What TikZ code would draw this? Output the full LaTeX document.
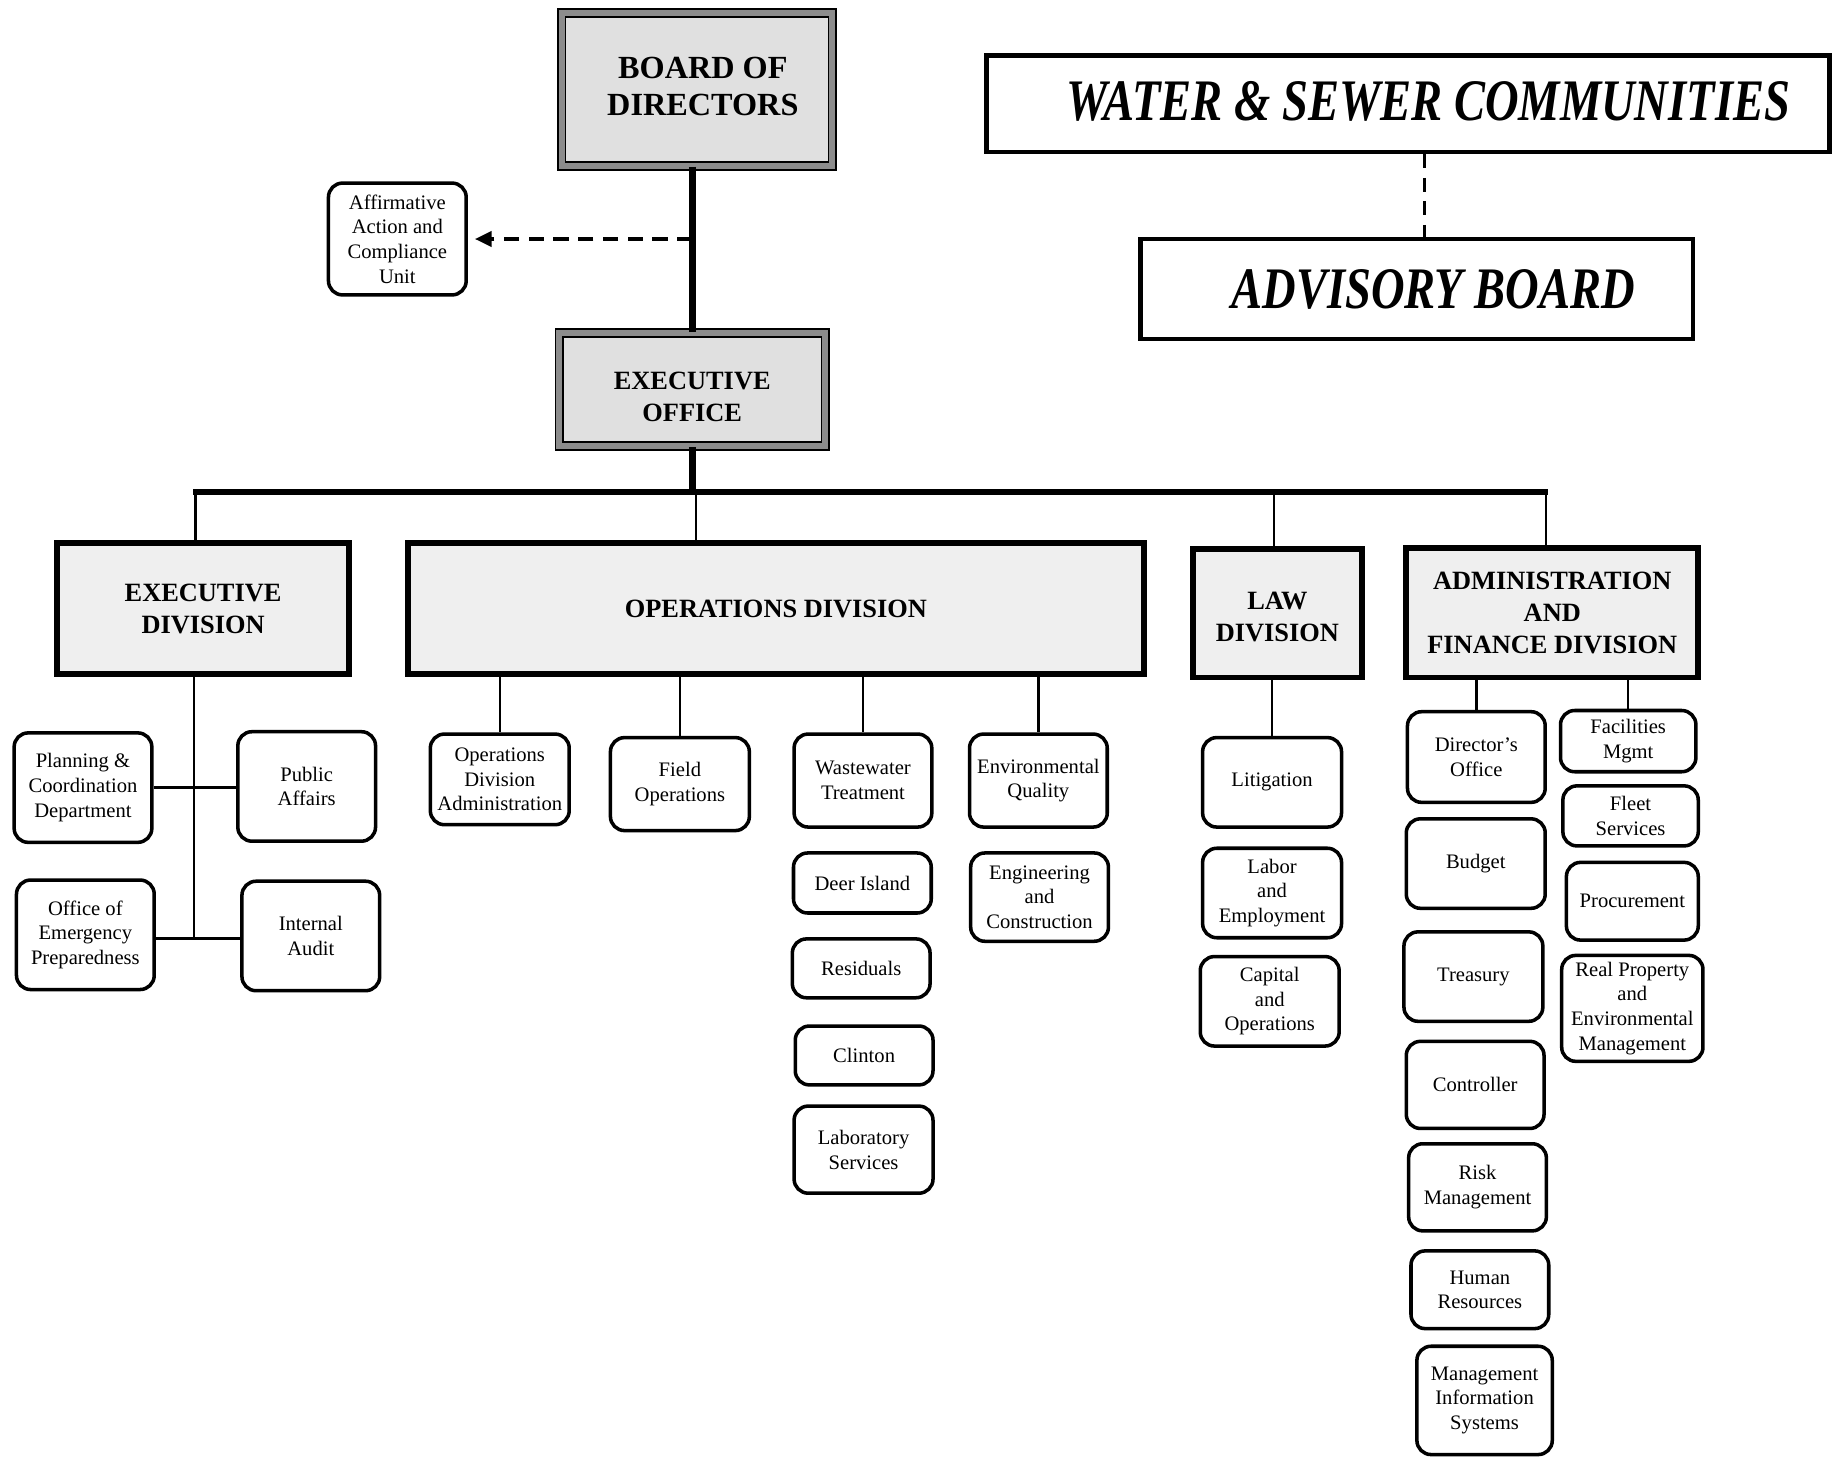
\documentclass[tikz,border=0pt]{standalone}
\usepackage{graphicx}
\usepackage{fontspec}
\setmainfont{Liberation Serif}
\usetikzlibrary{arrows.meta,positioning}

\definecolor{boardgray}{HTML}{E0E0E0}
\definecolor{divgray}{HTML}{EFEFEF}
\definecolor{hatchgray}{HTML}{8C8C8C}

\begin{document}
\begin{tikzpicture}[x=0.5pt, y=-0.5pt,
	unitbox/.style={draw, line width=1.5pt, rounded corners=6pt, align=center, inner sep=1pt, minimum width=58.5pt, font=\fontsize{8.75}{10.5}\selectfont},
	divbox/.style={draw, line width=2.5pt, fill=divgray, align=center, font=\bfseries\fontsize{11.2}{13.5}\selectfont},
	headbox/.style={draw=black, double=hatchgray, double distance=2.6pt, line width=0.7pt, fill=boardgray, align=center},
	councilbox/.style={draw, line width=2pt, align=center, font=\bfseries\itshape\fontsize{25}{30}\selectfont},
	trunk/.style={line width=2.8pt},
	drop/.style={line width=1pt},
	dasharrow/.style={line width=1.3pt, dash pattern=on 6.5pt off 4pt, -{Triangle[length=7pt,width=6.5pt]}, shorten >=3pt}]
	\useasboundingbox (0,0) rectangle (1568,1238);
	% board and executive office
	\node[headbox, font=\bfseries\fontsize{13.7}{15.5}\selectfont, minimum width=115pt, minimum height=65pt] (board) at (592,76) {\hspace*{5pt}\raisebox{1.5pt}{\begin{tabular}{@{}c@{}}BOARD OF\\DIRECTORS\end{tabular}}};
	\node[headbox, font=\bfseries\fontsize{11.2}{13.5}\selectfont, minimum width=113pt, minimum height=48pt] (exec) at (588,331) {\raisebox{-4pt}[\height][\depth]{\begin{tabular}{@{}c@{}}EXECUTIVE\\OFFICE\end{tabular}}};
	\node[unitbox, minimum height=47.5pt] (affirm) at (337.5,203) {Affirmative\\Action and\\Compliance\\Unit};
	% communities
	\node[councilbox, minimum width=358pt, minimum height=41pt] (water) at (1196,88) {\hspace*{17pt}\raisebox{2.5pt}{\scalebox{0.79}[1]{WATER \& SEWER COMMUNITIES}}};
	\node[councilbox, minimum width=234.5pt, minimum height=42.5pt] (advisory) at (1203.5,245.5) {\hspace*{14pt}\scalebox{0.79}[1]{ADVISORY BOARD}};
	% divisions
	\node[divbox, minimum width=124pt, minimum height=55.5pt] (exdiv) at (172.5,517) {EXECUTIVE\\DIVISION};
	\node[divbox, minimum width=312.5pt, minimum height=55.5pt] (ops) at (659,517) {OPERATIONS DIVISION};
	\node[divbox, minimum width=71.5pt, minimum height=54.5pt] (law) at (1085,521) {\raisebox{-2.5pt}[\height][\depth]{\begin{tabular}{@{}c@{}}LAW\\DIVISION\end{tabular}}};
	\node[divbox, minimum width=124pt, minimum height=55pt] (admin) at (1318.5,520.5) {ADMINISTRATION\\AND\\FINANCE DIVISION};
	% executive division units
	\node[unitbox, minimum height=46.5pt] (plan) at (70.5,669) {Planning \&\\Coordination\\Department};
	\node[unitbox, minimum height=46.5pt] (pubaff) at (260.5,668) {Public\\Affairs};
	\node[unitbox, minimum height=46.5pt] (oep) at (72.5,794) {Office of\\Emergency\\Preparedness};
	\node[unitbox, minimum height=46.5pt] (audit) at (264,795) {Internal\\Audit};
	% operations units
	\node[unitbox, minimum width=59pt, minimum height=38.5pt] (opadmin) at (424.5,662) {Operations\\Division\\Administration};
	\node[unitbox, minimum width=59pt, minimum height=39.5pt] (field) at (577.5,666) {Field\\Operations};
	\node[unitbox, minimum height=39.5pt] (wwt) at (733,663) {Wastewater\\Treatment};
	\node[unitbox, minimum height=39.5pt] (envq) at (882,663) {Environmental\\Quality};
	\node[unitbox, minimum height=25.5pt] (deer) at (732.5,750) {Deer Island};
	\node[unitbox, minimum height=25pt] (resid) at (731.5,822.5) {Residuals};
	\node[unitbox, minimum height=25pt] (clinton) at (734,896.5) {Clinton};
	\node[unitbox, minimum width=59pt, minimum height=37pt] (lab) at (733.5,976.5) {Laboratory\\Services};
	\node[unitbox, minimum height=37.5pt] (engcon) at (883,762) {Engineering\\and\\Construction};
	% law units
	\node[unitbox, minimum width=59pt, minimum height=38pt] (litig) at (1080.5,664.5) {Litigation};
	\node[unitbox, minimum width=59pt, minimum height=38pt] (labor) at (1080.5,758.5) {Labor\\and\\Employment};
	\node[unitbox, minimum width=59pt, minimum height=38pt] (capital) at (1078.5,850.5) {Capital\\and\\Operations};
	% administration and finance units
	\node[unitbox, minimum height=38.5pt] (dirof) at (1254,643) {Director's\\Office};
	\node[unitbox, minimum width=59pt, minimum height=38pt] (budget) at (1253.5,733.5) {Budget};
	\node[unitbox, minimum width=59pt, minimum height=38pt] (treas) at (1251.5,829.5) {Treasury};
	\node[unitbox, minimum height=37pt] (control) at (1253,921.5) {Controller};
	\node[unitbox, minimum height=37pt] (risk) at (1255,1008.5) {Risk\\Management};
	\node[unitbox, minimum height=33pt] (hr) at (1257,1095.5) {Human\\Resources};
	\node[unitbox, minimum width=57.5pt, minimum height=46pt] (mis) at (1261,1189.5) {Management\\Information\\Systems};
	\node[unitbox, minimum width=57.5pt, minimum height=26pt] (facil) at (1383,629.5) {Facilities\\Mgmt};
	\node[unitbox, minimum width=57.5pt, minimum height=25.5pt] (fleet) at (1385,693) {Fleet\\Services};
	\node[unitbox, minimum width=56pt, minimum height=33pt] (procure) at (1386.5,765.5) {Procurement};
	\node[unitbox, minimum width=60pt, minimum height=45pt] (realprop) at (1386.5,856.5) {Real Property\\and\\Environmental\\Management};
	% trunk and bar
	\coordinate (barL) at (164,418);
	\coordinate (barR) at (1315,418);
	\coordinate (jex) at (166,418);
	\coordinate (jops) at (591,418);
	\coordinate (jlaw) at (1082,418);
	\coordinate (jadm) at (1313,418);
	\draw[trunk] (exec.north |- board.south) -- (exec.north);
	\draw[trunk] (exec.south) -- (exec.south |- barL);
	\draw[trunk] (barL) -- (barR);
	\foreach \j/\d in {jex/exdiv, jops/ops, jlaw/law, jadm/admin}
		\draw[drop] (\j) -- (\j |- \d.north);
	% dashed links
	\coordinate (affjoin) at (exec.north |- affirm.east);
	\draw[dasharrow] (affjoin) -- (affirm.east);
	\draw[line width=1.3pt, dash pattern=on 6pt off 4pt] ([xshift=7pt]water.south) -- ([xshift=7pt]water.south |- advisory.north);
	% executive division links
	\coordinate (exstem) at (165,797);
	\draw[drop] (exdiv.south -| exstem) -- (exstem);
	\draw[drop] (plan.east) -- (plan.east -| pubaff.west);
	\draw[drop] (oep.east |- exstem) -- (audit.west |- exstem);
	% unit drops
	\foreach \u in {opadmin, field, wwt, envq}
		\draw[drop] (\u.north |- ops.south) -- (\u.north);
	\draw[drop] (litig.north |- law.south) -- (litig.north);
	\foreach \u in {dirof, facil}
		\draw[drop] (\u.north |- admin.south) -- (\u.north);
\end{tikzpicture}
\end{document}
